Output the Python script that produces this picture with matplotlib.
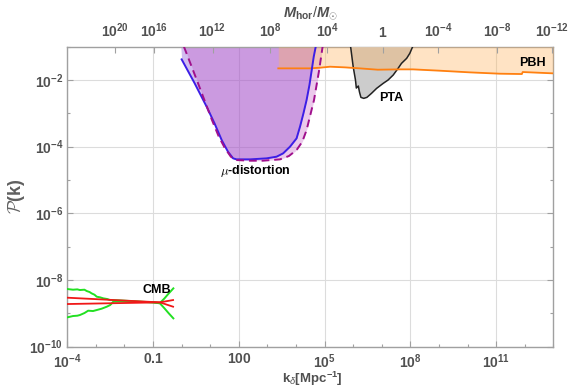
import numpy as np
import matplotlib
matplotlib.use("Agg")
import matplotlib.pyplot as plt
from matplotlib.ticker import FixedLocator, NullFormatter, NullLocator

plt.rcParams.update({
    "font.family": ["Liberation Sans", "DejaVu Sans"],
    "mathtext.fontset": "custom",
    "mathtext.rm": "Liberation Sans",
    "mathtext.bf": "Liberation Sans:bold",
    "mathtext.it": "Liberation Sans:italic",
    "mathtext.bfit": "Liberation Sans:bold:italic",
})

# ---- data (log10 k [Mpc^-1], log10 P) ----
# CMB: central spectra (two tilted lines) and green error envelope
cmb_red1_logk = [-4.0, -0.76, -0.30]
cmb_red1_logp = [-8.53, -8.67, -8.80]
cmb_red2_logk = [-4.0, -0.76, -0.30]
cmb_red2_logp = [-8.72, -8.67, -8.60]
cmb_up_logk = [-4.0, -3.80, -3.65, -3.56, -3.40, -3.32, -3.22, -3.15, -3.05, -2.97, -2.85,
               -2.74, -2.60, -2.51, -2.20, -1.80, -1.40, -1.00, -0.76, -0.60, -0.45, -0.29]
cmb_up_logp = [-8.27, -8.29, -8.28, -8.30, -8.29, -8.33, -8.36, -8.40, -8.44, -8.50, -8.52,
               -8.55, -8.57, -8.60, -8.61, -8.63, -8.65, -8.67, -8.69, -8.55, -8.40, -8.25]
cmb_lo_logk = [-4.0, -3.80, -3.65, -3.56, -3.40, -3.27, -3.10, -2.97, -2.80, -2.62, -2.50,
               -2.39, -2.10, -1.70, -1.30, -1.00, -0.76, -0.60, -0.45, -0.29]
cmb_lo_logp = [-9.12, -9.08, -9.07, -9.05, -8.99, -8.92, -8.93, -8.90, -8.86, -8.80, -8.75,
               -8.65, -8.64, -8.65, -8.66, -8.67, -8.70, -8.85, -9.00, -9.15]

# mu-distortion bounds (solid and dashed)
mu_solid_logk = [0.0, 0.45, 0.874, 1.15, 1.40, 1.62, 1.80, 1.92, 2.40, 2.97, 3.32, 3.55, 3.79,
                 4.02, 4.14, 4.26, 4.37, 4.47, 4.55, 4.62, 4.69]
mu_solid_logp = [-1.38, -2.09, -2.80, -3.30, -3.80, -4.15, -4.35, -4.38, -4.38, -4.35, -4.30,
                 -4.20, -4.00, -3.75, -3.40, -3.00, -2.60, -2.15, -1.70, -1.30, -1.00]
mu_dash_logk = [0.08, 0.53, 1.06, 1.30, 1.51, 1.72, 1.90, 2.40, 2.84, 3.44, 3.75, 4.02, 4.22,
                4.37, 4.50, 4.63, 4.72, 4.81, 4.87, 4.93]
mu_dash_logp = [-1.00, -2.00, -3.20, -3.70, -4.04, -4.30, -4.40, -4.42, -4.42, -4.38, -4.28,
                -4.10, -3.85, -3.50, -3.05, -2.60, -2.15, -1.70, -1.35, -1.00]

# PBH bound
pbh_logk = [3.38, 4.49, 4.84, 5.19, 5.71, 6.23, 6.86, 7.63, 8.09, 9.03, 10.08, 11.13, 11.90,
            11.93, 13.0]
pbh_logp = [-1.65, -1.65, -1.63, -1.60, -1.62, -1.65, -1.69, -1.68, -1.68, -1.72, -1.77,
            -1.81, -1.82, -1.76, -1.80]

# PTA region outline
pta_logk = [5.91, 6.00, 6.08, 6.11, 6.18, 6.22, 6.27, 6.37, 6.48, 6.64, 6.82, 7.05, 7.22,
            7.40, 7.57, 7.69, 7.87, 7.98, 8.08]
pta_logp = [-1.00, -1.60, -2.00, -2.24, -2.18, -2.36, -2.52, -2.55, -2.52, -2.40, -2.25,
            -2.10, -2.00, -1.85, -1.65, -1.50, -1.35, -1.20, -1.00]

# axis ticks
bottom_tick_logk = [-4, -1, 2, 5, 8, 11]
bottom_tick_labels = [r"$\mathbf{10}^{\mathbf{-4}}$", r"$\mathbf{0.1}$", r"$\mathbf{100}$",
                      r"$\mathbf{10}^{\mathbf{5}}$", r"$\mathbf{10}^{\mathbf{8}}$",
                      r"$\mathbf{10}^{\mathbf{11}}$"]
left_tick_logp = [-10, -8, -6, -4, -2]
left_tick_labels = [r"$\mathbf{10}^{\mathbf{-10}}$", r"$\mathbf{10}^{\mathbf{-8}}$",
                    r"$\mathbf{10}^{\mathbf{-6}}$", r"$\mathbf{10}^{\mathbf{-4}}$",
                    r"$\mathbf{10}^{\mathbf{-2}}$"]
# horizon mass ticks placed at the corresponding log10 k
top_tick_logk = [-2.33, -0.95, 1.08, 3.10, 5.10, 7.04, 8.98, 11.02, 12.96]
top_tick_labels = [r"$\mathbf{10}^{\mathbf{20}}$", r"$\mathbf{10}^{\mathbf{16}}$",
                   r"$\mathbf{10}^{\mathbf{12}}$", r"$\mathbf{10}^{\mathbf{8}}$",
                   r"$\mathbf{10}^{\mathbf{4}}$", r"$\mathbf{1}$",
                   r"$\mathbf{10}^{\mathbf{-4}}$", r"$\mathbf{10}^{\mathbf{-8}}$",
                   r"$\mathbf{10}^{\mathbf{-12}}$"]

p = lambda a: 10.0 ** np.asarray(a)

fig = plt.figure(figsize=(5.73, 3.89), dpi=100)
ax = fig.add_axes([67.3 / 573, 1 - 346.7 / 389, (553.3 - 67.3) / 573, 300.0 / 389])
ax.set_xscale("log")
ax.set_yscale("log")
ax.set_xlim(1e-4, 1e13)
ax.set_ylim(1e-10, 1e-1)

TOP = 1e-1
# mu-distortion shaded regions
ax.fill_between(p([mu_solid_logk[0] - 0.03] + mu_solid_logk), p([-1.0] + mu_solid_logp), TOP,
                color=(0.55, 0.35, 0.85), alpha=0.40, lw=0, zorder=2)
ax.fill_between(p(mu_dash_logk), p(mu_dash_logp), TOP,
                color=(0.75, 0.30, 0.75), alpha=0.30, lw=0, zorder=2)

# PTA region
ax.fill(p(pta_logk), p(pta_logp), color=(0.80, 0.80, 0.80), lw=0, zorder=3)
ax.plot(p(pta_logk), p(pta_logp), color="#222222", lw=1.1, zorder=6)

# PBH region
ax.fill_between(p(pbh_logk), p(pbh_logp), TOP,
                color=(1.0, 0.70, 0.36), alpha=0.36, lw=0, zorder=4)
ax.plot(p(pbh_logk), p(pbh_logp), color="#ff8010", lw=1.3, zorder=6)

# mu-distortion boundaries
ax.plot(p(mu_solid_logk), p(mu_solid_logp), color="#3c1ee6", lw=1.4, zorder=7)
ax.plot(p(mu_dash_logk), p(mu_dash_logp), color="#a0108c", lw=1.4, ls=(0, (4, 2.5)), zorder=7)

# CMB
ax.plot(p(cmb_up_logk), p(cmb_up_logp), color="#22e022", lw=1.4, zorder=8)
ax.plot(p(cmb_lo_logk), p(cmb_lo_logp), color="#22e022", lw=1.4, zorder=8)
ax.plot(p(cmb_red1_logk), p(cmb_red1_logp), color="#f01818", lw=1.3, zorder=9)
ax.plot(p(cmb_red2_logk), p(cmb_red2_logp), color="#f01818", lw=1.3, zorder=9)

# labels inside the plot
ax.text(p(-0.86), p(-8.30), "CMB", fontsize=9, fontweight="bold", ha="center", va="center", zorder=10)
ax.text(p(2.56), p(-4.72), r"$\mu$-distortion", fontsize=9, fontweight="bold",
        ha="center", va="center", math_fontfamily="cm", zorder=10)
ax.text(p(7.34), p(-2.55), "PTA", fontsize=9, fontweight="bold", ha="center", va="center", zorder=10)
ax.text(p(12.27), p(-1.50), "PBH", fontsize=9, fontweight="bold", ha="center", va="center", zorder=10)

# axes styling
gray = "#a0a0a0"
lab = "#505050"
for s in ax.spines.values():
    s.set_color(gray)
    s.set_linewidth(1.0)

ax.xaxis.set_major_locator(FixedLocator(p(bottom_tick_logk)))
ax.xaxis.set_minor_locator(FixedLocator(p(np.arange(-4, 14))))
ax.xaxis.set_minor_formatter(NullFormatter())
ax.set_xticklabels(bottom_tick_labels)
ax.yaxis.set_major_locator(FixedLocator(p(left_tick_logp)))
ax.yaxis.set_minor_locator(FixedLocator(p(np.arange(-9, 0, 2))))
ax.yaxis.set_minor_formatter(NullFormatter())
ax.set_yticklabels(left_tick_labels)
ax.tick_params(which="both", direction="in", color=gray, labelcolor=lab, labelsize=10)
ax.tick_params(which="major", length=4, width=0.8)
ax.tick_params(which="minor", length=2.5, width=0.8)
ax.tick_params(axis="x", which="both", top=False, pad=4)
ax.tick_params(axis="y", which="both", right=True, pad=3)

ax.grid(True, which="major", color="#dcdcdc", lw=0.8, zorder=0)
ax.set_axisbelow(True)

ax2 = ax.twiny()
ax2.set_xscale("log")
ax2.set_xlim(ax.get_xlim())
ax2.xaxis.set_major_locator(FixedLocator(p(top_tick_logk)))
ax2.xaxis.set_minor_locator(NullLocator())
ax2.set_xticklabels(top_tick_labels)
ax2.tick_params(direction="in", color=gray, labelcolor=lab, labelsize=10, length=4, width=0.8, pad=5)
for s in ax2.spines.values():
    s.set_visible(False)

# axis titles
fig.text(312 / 573, 1 - 379 / 389, r"$\mathbf{k}_{\delta}$$\mathbf{[Mpc}^{\mathbf{-1}}\mathbf{]}$",
         fontsize=9.5, color=lab, ha="center", va="center")
ax2.set_xlabel(r"$\mathbfit{M}_{\mathbf{hor}}/\mathbfit{M}_{\odot}$", fontsize=10.5,
               color=lab, labelpad=3)
ax.set_ylabel(r"$\mathcal{P}$(k)", fontsize=13, color="#606060", labelpad=2,
              math_fontfamily="cm", fontweight="bold")

fig.savefig("out.png", dpi=100)
